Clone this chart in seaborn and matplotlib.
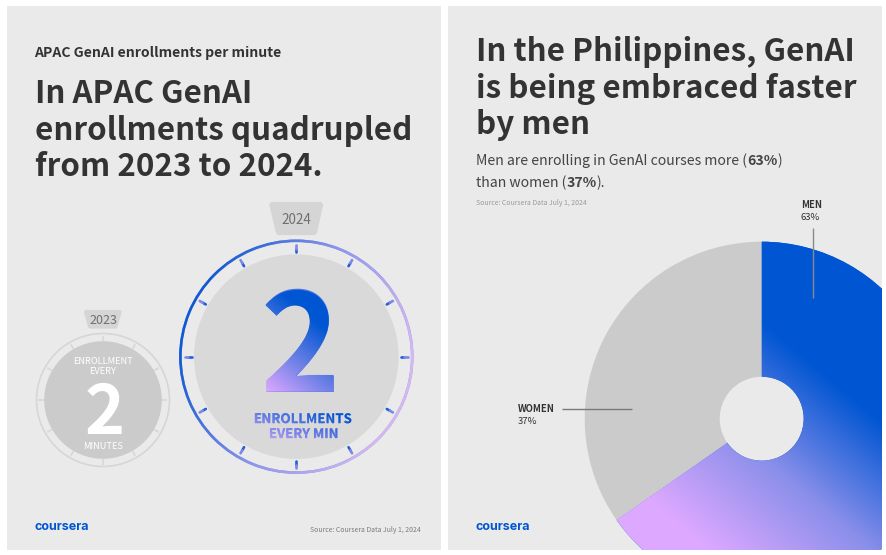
import numpy as np
import matplotlib
matplotlib.use("Agg")
import matplotlib.pyplot as plt
import seaborn as sns
from matplotlib.patches import Rectangle, Circle, Wedge, Polygon, PathPatch
from matplotlib.textpath import TextPath
from matplotlib.font_manager import FontProperties
from matplotlib.transforms import Affine2D, Bbox

# ---- data ----
categories = ["MEN", "WOMEN"]
share_labels = ["63%", "37%"]
# slice sizes as drawn in the picture (the artwork is not to the printed scale)
drawn_shares = [65.3, 34.7]
years = ["2023", "2024"]
dial_numbers = ["2", "2"]
left_heading = "APAC GenAI enrollments per minute"
left_title = ["In APAC GenAI", "enrollments quadrupled", "from 2023 to 2024."]
right_title = ["In the Philippines, GenAI", "is being embraced faster", "by men"]
source_text = "Source: Coursera Data July 1, 2024"

sns.set_theme(style="white")
FONT = "Noto Sans CJK SC"
plt.rcParams["font.family"] = [FONT, "DejaVu Sans"]
DPI = 100
fig = plt.figure(figsize=(8.86, 5.55), dpi=DPI, facecolor="white")
ax = fig.add_axes([0, 0, 1, 1])
W, H = 886, 555

BLUE, LILAC = "#0056D2", "#DDA8FF"
pie_cmap = sns.blend_palette([BLUE, "#8A8FEA", LILAC], as_cmap=True)
ring_cmap = sns.blend_palette(["#0F5AD2", "#8D95EA", "#D4B8F0"], as_cmap=True)
text_cmap = sns.blend_palette([LILAC, "#6C80E6", BLUE], as_cmap=True)
PANEL, INK = "#EAEAEA", "#333333"

def px(size):
    return size * 72 / DPI

def gradient(bbox, p0, p1, cmap, clip):
    x0, y0, x1, y1 = bbox
    xs = np.linspace(x0, x1, max(int(x1 - x0) * 2, 2))
    ys = np.linspace(y0, y1, max(int(y1 - y0) * 2, 2))
    X, Y = np.meshgrid(xs, ys)
    d = np.array(p1, float) - np.array(p0, float)
    t = ((X - p0[0]) * d[0] + (Y - p0[1]) * d[1]) / (d @ d)
    im = ax.imshow(np.clip(t, 0, 1), cmap=cmap, vmin=0, vmax=1, extent=(x0, x1, y1, y0),
                   aspect="auto", origin="upper", zorder=clip.get_zorder() + 0.1,
                   interpolation="bilinear")
    im.set_clip_path(clip)
    return im

def txt(x, y, s, size, color=INK, weight="regular", **kw):
    return ax.text(x, y, s, fontsize=px(size), color=color, fontweight=weight,
                   va="baseline", ha=kw.pop("ha", "left"), zorder=kw.pop("zorder", 6), **kw)

def run(x, y, parts, size, color):
    """text runs of mixed weight on one baseline"""
    r = fig.canvas.get_renderer()
    for s, w in parts:
        t = txt(x, y, s, size, color, w)
        x += t.get_window_extent(r).width

def gradient_text(cx, base, s, size, weight, p0, p1, cmap, under):
    fp = FontProperties(family=FONT, weight=weight)
    tp = TextPath((0, 0), s, size=size, prop=fp)
    e = tp.get_extents()
    ox = cx - (e.x0 + e.x1) / 2
    txt(ox, base, s, size, under, weight, zorder=6)
    patch = PathPatch(tp, transform=Affine2D().scale(1, -1).translate(ox, base) + ax.transData,
                      fc="none", ec="none", zorder=6.5)
    ax.add_patch(patch)
    bb = (ox + e.x0 - 2, base - e.y1 - 2, ox + e.x1 + 2, base - e.y0 + 2)
    im = gradient(bb, p0, p1, cmap, patch)
    return im

# ---- panels ----
panels = {}
for name, x0, x1 in [("l", 7, 441), ("r", 448, 882)]:
    panels[name] = Rectangle((x0, 6), x1 - x0, 544, fc=PANEL, ec="none", zorder=0)
    ax.add_patch(panels[name])

# ---- right panel: pie ----
cx, cy, R, r = 761.7, 418.7, 177, 42
wedges, _ = ax.pie(drawn_shares, colors=[BLUE, "#CBCBCB"], startangle=270, counterclock=True,
                   center=(cx, cy), radius=R, frame=True,
                   wedgeprops=dict(width=R - r, linewidth=0))
for w in wedges:
    w.set_zorder(1)
    w.set_clip_on(True)
    w.set_clip_path(None)
    w.set_clip_box(Bbox([[448, H - 550], [882, H - 6]]))
gradient((448, 230, 882, 550), (812, 363), (678, 523), pie_cmap, wedges[0])

ax.plot([812.8, 812.8], [228, 298], color="#8A8A8A", lw=1.0, zorder=5, solid_capstyle="butt")
ax.plot([562, 632], [408.8, 408.8], color="#7A7A7A", lw=1.0, zorder=5, solid_capstyle="butt")
txt(800.7, 208.5, categories[0], 9.4, INK, "bold")
txt(800.7, 220, share_labels[0], 9.6, INK, "regular")
txt(518, 412.5, categories[1], 9.4, INK, "bold")
txt(518, 424, share_labels[1], 9.6, INK, "regular")

# ---- right panel: text ----
for s, y in zip(right_title, [61, 98, 134]):
    txt(476, y, s, 31.3, INK, "bold")
run(476, 165, [("Men are enrolling in GenAI courses more (", "light"), ("63%", "bold"), (")", "light")], 14.05, "#444444")
run(476, 187, [("than women (", "light"), ("37%", "bold"), (").", "light")], 14.05, "#444444")
txt(476, 205, source_text, 6.9, "#9A9A9A")
txt(476, 530, "coursera", 12.5, BLUE, "bold", family=["Inter", "DejaVu Sans"])

# ---- left panel: text ----
txt(34.5, 57.5, left_heading, 14.0, INK, "bold")
for s, y in zip(left_title, [103, 140, 176]):
    txt(35, y, s, 31.3, INK, "bold")
txt(35, 530, "coursera", 12.5, BLUE, "bold", family=["Inter", "DejaVu Sans"])
txt(421, 532, source_text, 6.9, "#7A7A7A", ha="right")

# ---- dial 2023 ----
c1 = (103, 400)
ax.add_patch(Circle(c1, 66.5, fc="none", ec="#D6D6D6", lw=1.2, zorder=2))
ax.add_patch(Circle(c1, 58.8, fc="#CBCBCB", ec="none", zorder=3))
for a in np.deg2rad(np.arange(12) * 30):
    ax.plot([c1[0] + 59 * np.sin(a), c1[0] + 64.5 * np.sin(a)],
            [c1[1] - 59 * np.cos(a), c1[1] - 64.5 * np.cos(a)],
            color="#D6D6D6", lw=1.1, zorder=2, solid_capstyle="butt")
ax.add_patch(Polygon([(86, 312), (119.5, 312), (115.5, 326.5), (90, 326.5)], closed=True,
                     fc="#D5D5D5", ec="#D5D5D5", lw=3, joinstyle="round", zorder=2))
txt(103, 324, years[0], 12.5, "#6F6F6F", ha="center")
txt(103, 364, "ENROLLMENT", 9.3, "white", "medium", ha="center")
txt(103, 373.6, "EVERY", 9.3, "white", "medium", ha="center")
txt(104.5, 434.3, dial_numbers[0], 68, "white", "bold", ha="center")
txt(103, 449, "MINUTES", 9.3, "white", "medium", ha="center")

# ---- dial 2024 ----
c2 = (296.3, 356.7)
ring = Wedge(c2, 117.2, 0, 360, width=2.6, fc="#8D95EA", ec="none", zorder=2)
ax.add_patch(ring)
gradient((c2[0] - 119, c2[1] - 119, c2[0] + 119, c2[1] + 119), (200, 300), (400, 380), ring_cmap, ring)
ax.add_patch(Circle(c2, 102.3, fc="#D9D9D9", ec="none", zorder=3))
for a in np.deg2rad(np.arange(12) * 30):
    s, k = np.sin(a), np.cos(a)
    ax.plot([c2[0] + 104.5 * s, c2[0] + 108 * s], [c2[1] - 104.5 * k, c2[1] - 108 * k],
            color="#1F5FD8", lw=1.9, zorder=4, solid_capstyle="round")
    ax.plot([c2[0] + 108 * s, c2[0] + 111.5 * s], [c2[1] - 108 * k, c2[1] - 111.5 * k],
            color="#7F86E8", lw=1.9, zorder=4, solid_capstyle="round")
ax.add_patch(Polygon([(272.5, 205), (320, 205), (314, 232), (279, 232)], closed=True,
                     fc="#D5D5D5", ec="#D5D5D5", lw=4.5, joinstyle="round", zorder=2))
txt(296.3, 224, years[1], 13.5, "#6F6F6F", ha="center")
gradient_text(299.5, 391.7, dial_numbers[1], 135, "bold", (268, 392), (322, 326), text_cmap, "#4F72DE")
P0, P1 = (255, 442.5), (273, 393.6)
gradient_text(303, 423.3, "ENROLLMENTS", 13.2, "bold", P0, P1, text_cmap, "#5A78E4")
gradient_text(303.5, 438.2, "EVERY MIN", 13.2, "bold", P0, P1, text_cmap, "#8E8CEA")

ax.set_xlim(0, W)
ax.set_ylim(H, 0)
ax.set_aspect("auto")
ax.axis("off")
fig.savefig("out.png", dpi=DPI, facecolor="white")
